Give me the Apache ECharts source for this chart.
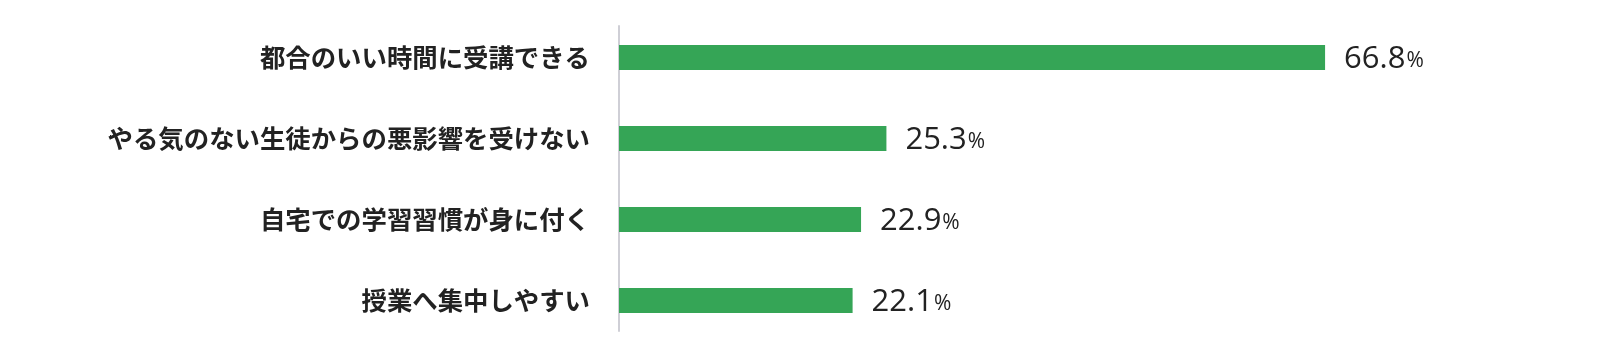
<!DOCTYPE html>
<html><head><meta charset="utf-8">
<script src="https://cdn.jsdelivr.net/npm/echarts@6/dist/echarts.min.js"></script>
<style>html,body{margin:0;padding:0;background:#fff}#c{width:1600px;height:357px}</style>
</head><body><div id="c"></div>
<script>
const categories = ["都合のいい時間に受講できる","やる気のない生徒からの悪影響を受けない","自宅での学習習慣が身に付く","授業へ集中しやすい"];
const values = [66.8, 25.3, 22.9, 22.1];

const chart = echarts.init(document.getElementById('c'));
chart.setOption({
  animation: false,
  grid: [
    {left: 619, width: 951.3, top: 17, bottom: 16},
    {left: 619, width: 951.3, top: 26, bottom: 26}
  ],
  xAxis: [
    {type: 'value', min: 0, max: 90, gridIndex: 0, show: false},
    {type: 'value', min: 0, max: 90, gridIndex: 1, show: false}
  ],
  yAxis: [
    {type: 'category', data: categories, inverse: true, gridIndex: 0,
     axisLine: {show: false}, axisTick: {show: false},
     axisLabel: {margin: 29, fontSize: 25.4, fontWeight: 'bold', color: '#222',
       fontFamily: '"Noto Sans CJK JP", sans-serif'}},
    {type: 'value', gridIndex: 1, min: 0, max: 1,
     axisLine: {show: true, lineStyle: {color: '#cfcfd6', width: 2}},
     axisTick: {show: false}, axisLabel: {show: false}, splitLine: {show: false}}
  ],
  series: [{
    type: 'bar', xAxisIndex: 0, yAxisIndex: 0,
    data: values, barWidth: 25,
    itemStyle: {color: '#35a556'},
    label: {
      show: true, position: 'right', distance: 19,
      formatter: p => '{n|' + p.value.toFixed(1) + '}{p|%}',
      rich: {
        n: {fontSize: 31, color: '#222', fontFamily: '"Open Sans", sans-serif', fontWeight: 400, padding: [4,0,0,0]},
        p: {fontSize: 21, color: '#222', fontFamily: '"Open Sans", sans-serif', fontWeight: 400, padding: [8,0,0,1]}
      }
    }
  }]
});
</script></body></html>
